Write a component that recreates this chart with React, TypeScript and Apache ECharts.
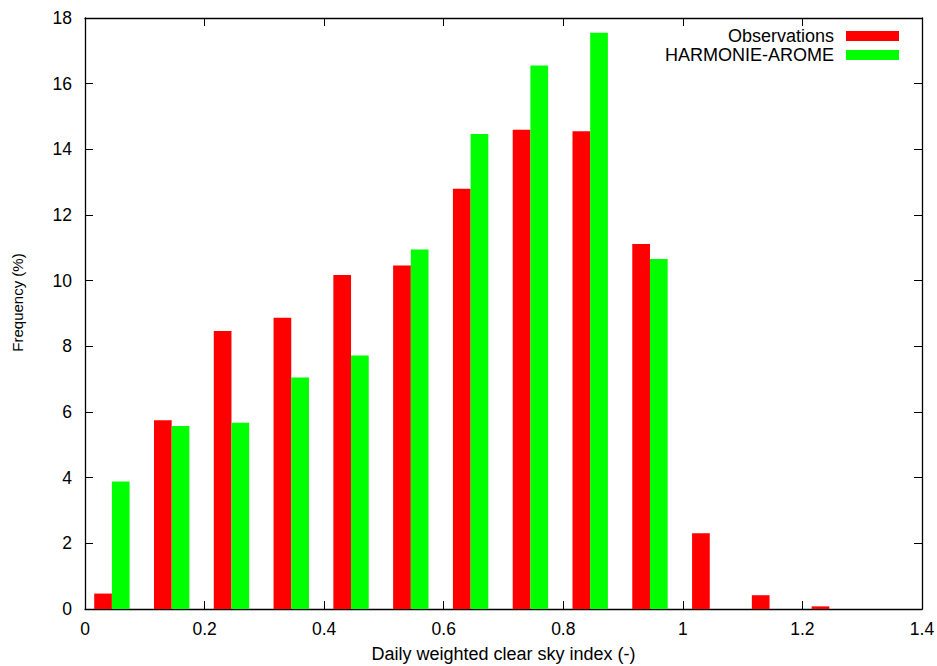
import React, { useEffect, useRef } from "react";
import * as echarts from "echarts";

const binPositions = [0.045, 0.145, 0.245, 0.345, 0.445, 0.545, 0.645, 0.745, 0.845, 0.945, 1.045, 1.145, 1.245];
const observations = [0.47, 5.75, 8.47, 8.87, 10.17, 10.46, 12.8, 14.6, 14.55, 11.12, 2.31, 0.42, 0.08];
const harmonie = [3.88, 5.57, 5.67, 7.05, 7.72, 10.95, 14.47, 16.55, 17.55, 10.66, null, null, null];
const seriesNames = ["Observations", "HARMONIE-AROME"];
const xTicks = { min: 0, max: 1.4, interval: 0.2 };
const yTicks = { min: 0, max: 18, interval: 2 };

const FONT = "'Liberation Sans', Arial, Helvetica, sans-serif";

export default function App() {
  const ref = useRef<HTMLDivElement>(null);
  useEffect(() => {
    if (!ref.current) return;
    const chart = echarts.init(ref.current, null, { renderer: "svg" });
    const tick = { show: true, inside: true, length: 8, lineStyle: { color: "#000", width: 1 } };
    const axisLine = { show: true, onZero: false, lineStyle: { color: "#000", width: 1.3 } };
    const legendCommon = {
      orient: "horizontal",
      align: "right",
      itemWidth: 53,
      itemHeight: 10,
      icon: "rect",
      selectedMode: false,
      textStyle: { fontFamily: FONT, fontSize: 18, color: "#000", padding: [0, 7, 0, 0] },
    };
    chart.setOption({
      animation: false,
      textStyle: { fontFamily: FONT },
      grid: { left: 85, right: 15, top: 18, bottom: 57, show: false, outerBoundsMode: "none", containLabel: false },
      legend: [
        { ...legendCommon, data: [seriesNames[0]], right: 33, top: 22 },
        { ...legendCommon, data: [seriesNames[1]], right: 33, top: 41 },
      ],
      xAxis: [
        {
          type: "value",
          ...xTicks,
          name: "Daily weighted clear sky index (-)",
          nameLocation: "middle",
          nameGap: 36,
          nameTextStyle: { fontFamily: FONT, fontSize: 18, color: "#000" },
          axisLine,
          axisTick: tick,
          splitLine: { show: false },
          axisLabel: { fontFamily: FONT, fontSize: 17.5, color: "#000", margin: 11 },
        },
        {
          type: "value",
          position: "top",
          ...xTicks,
          axisLine,
          axisTick: tick,
          splitLine: { show: false },
          axisLabel: { show: false },
        },
      ],
      yAxis: [
        {
          type: "value",
          ...yTicks,
          name: "Frequency (%)",
          nameLocation: "middle",
          nameGap: 60,
          nameTextStyle: { fontFamily: FONT, fontSize: 15, color: "#000", padding: [0, 0, 0, 22] },
          axisLine,
          axisTick: tick,
          splitLine: { show: false },
          axisLabel: { fontFamily: FONT, fontSize: 17.5, color: "#000", margin: 13 },
        },
        {
          type: "value",
          position: "right",
          ...yTicks,
          axisLine,
          axisTick: tick,
          splitLine: { show: false },
          axisLabel: { show: false },
        },
      ],
      series: [
        {
          name: seriesNames[0],
          type: "bar",
          barWidth: 17.7,
          barGap: "0%",
          itemStyle: { color: "#ff0000" },
          data: binPositions.map((x, i) => [x, observations[i]]),
        },
        {
          name: seriesNames[1],
          type: "bar",
          barWidth: 17.7,
          barGap: "0%",
          itemStyle: { color: "#00ff00" },
          data: binPositions.map((x, i) => [x, harmonie[i]]),
        },
      ],
    });
    return () => chart.dispose();
  }, []);
  return <div ref={ref} style={{ width: 937, height: 666, position: "absolute", left: 0, top: 0 }} />;
}
